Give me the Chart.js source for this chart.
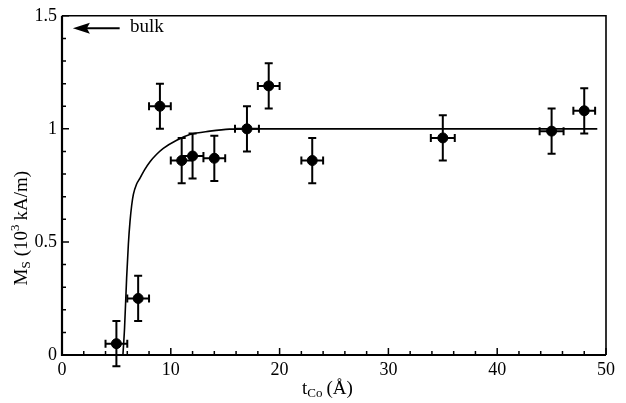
<!DOCTYPE html>
<html>
<head>
<meta charset="utf-8">
<script src="https://cdn.jsdelivr.net/npm/chart.js@4"></script>
<style>
  html, body { margin: 0; padding: 0; background: #fff; }
  #wrap { width: 626px; height: 403px; }
</style>
</head>
<body>
<div id="wrap"><canvas id="chart" width="626" height="403"></canvas></div>
<script>
// measured points: thickness t_Co (Å) and Ms (10^3 kA/m)
const thickness = [5, 7, 9, 11, 12, 14, 17, 19, 23, 35, 45, 48];
const msValues = [0.05, 0.25, 1.10, 0.86, 0.88, 0.87, 1.00, 1.19, 0.86, 0.96, 0.99, 1.08];
const xError = [1, 1, 1, 1, 1, 1, 1.1, 1, 1, 1.1, 1.1, 1];
const yError = [0.1, 0.1, 0.1, 0.1, 0.1, 0.1, 0.1, 0.1, 0.1, 0.1, 0.1, 0.1];

// fitted curve
const fitX = [5.6, 5.75, 5.94, 6.1, 6.25, 6.4, 6.56, 6.85, 7.17, 7.6, 8.09, 8.7, 9.31, 10.54, 11.76, 13.6, 15.4, 17, 20, 30, 40, 49.2];
const fitY = [0.0, 0.12, 0.34, 0.49, 0.59, 0.66, 0.71, 0.755, 0.782, 0.82, 0.855, 0.888, 0.914, 0.95, 0.975, 0.99, 0.999, 1.0, 1.0, 1.0, 1.0, 1.0];

const xTicks = [0, 10, 20, 30, 40, 50];
const yTicks = [0, 0.5, 1, 1.5];

const FONT = '"Liberation Serif", "DejaVu Serif", serif';

const frameAndTicks = {
  id: 'frameAndTicks',
  afterDraw(chart) {
    const { ctx, chartArea: a, scales: { x, y } } = chart;
    ctx.save();
    ctx.strokeStyle = '#000';
    // frame
    ctx.lineWidth = 2.2;
    ctx.beginPath();
    ctx.moveTo(a.left, a.top); ctx.lineTo(a.left, a.bottom); ctx.lineTo(a.right, a.bottom);
    ctx.stroke();
    ctx.lineWidth = 1.6;
    ctx.beginPath();
    ctx.moveTo(a.left, a.top); ctx.lineTo(a.right, a.top); ctx.lineTo(a.right, a.bottom);
    ctx.stroke();
    // inward ticks
    ctx.lineWidth = 1.5;
    ctx.beginPath();
    for (let v = 0; v <= 50.001; v += 2) {
      const px = x.getPixelForValue(v);
      const len = xTicks.includes(Math.round(v)) ? 7 : 4;
      ctx.moveTo(px, a.bottom); ctx.lineTo(px, a.bottom - len);
    }
    for (let i = 0; i <= 15; i++) {
      const v = i / 10;
      const py = y.getPixelForValue(v);
      const len = i % 5 === 0 ? 7 : 4;
      ctx.moveTo(a.left, py); ctx.lineTo(a.left + len, py);
    }
    ctx.stroke();

    // error bars
    ctx.lineWidth = 2;
    ctx.beginPath();
    thickness.forEach((t, i) => {
      const cx = x.getPixelForValue(t), cy = y.getPixelForValue(msValues[i]);
      const x0 = x.getPixelForValue(t - xError[i]), x1 = x.getPixelForValue(t + xError[i]);
      const y0 = y.getPixelForValue(msValues[i] - yError[i]), y1 = y.getPixelForValue(msValues[i] + yError[i]);
      ctx.moveTo(x0, cy); ctx.lineTo(x1, cy);
      ctx.moveTo(x0, cy - 4); ctx.lineTo(x0, cy + 4);
      ctx.moveTo(x1, cy - 4); ctx.lineTo(x1, cy + 4);
      ctx.moveTo(cx, y0); ctx.lineTo(cx, y1);
      ctx.moveTo(cx - 4, y0); ctx.lineTo(cx + 4, y0);
      ctx.moveTo(cx - 4, y1); ctx.lineTo(cx + 4, y1);
    });
    ctx.stroke();

    // bulk arrow
    const ay = y.getPixelForValue(1.445);
    const ax0 = x.getPixelForValue(1.0), ax1 = x.getPixelForValue(5.3);
    ctx.lineWidth = 2;
    ctx.beginPath();
    ctx.moveTo(ax0 + 10, ay); ctx.lineTo(ax1, ay);
    ctx.stroke();
    ctx.fillStyle = '#000';
    ctx.beginPath();
    ctx.moveTo(ax0, ay); ctx.lineTo(ax0 + 17, ay - 5.5); ctx.lineTo(ax0 + 14, ay); ctx.lineTo(ax0 + 17, ay + 5.5);
    ctx.closePath(); ctx.fill();
    ctx.font = '19px ' + FONT;
    ctx.textBaseline = 'middle';
    ctx.fillText('bulk', x.getPixelForValue(6.25), ay - 1);

    // x title: t_Co (Å)
    ctx.textBaseline = 'alphabetic';
    let tx = (a.left + a.right) / 2 - 32, ty = 394;
    ctx.font = '19px ' + FONT;
    ctx.fillText('t', tx, ty); tx += ctx.measureText('t').width;
    ctx.font = '13px ' + FONT;
    ctx.fillText('Co', tx, ty + 3); tx += ctx.measureText('Co').width + 4;
    ctx.font = '19px ' + FONT;
    ctx.fillText('(Å)', tx, ty);

    // y title: M_S (10^3 kA/m)
    ctx.translate(27, (a.top + a.bottom) / 2 + 12);
    ctx.rotate(-Math.PI / 2);
    let sx = -88;
    ctx.font = '19px ' + FONT;
    ctx.fillText('M', sx, 0); sx += ctx.measureText('M').width;
    ctx.font = '13px ' + FONT;
    ctx.fillText('S', sx, 3); sx += ctx.measureText('S').width + 5;
    ctx.font = '19px ' + FONT;
    ctx.fillText('(10', sx, 0); sx += ctx.measureText('(10').width;
    ctx.font = '13px ' + FONT;
    ctx.fillText('3', sx, -8); sx += ctx.measureText('3').width + 4;
    ctx.font = '19px ' + FONT;
    ctx.fillText('kA/m)', sx, 0);
    ctx.restore();
  }
};

new Chart(document.getElementById('chart'), {
  type: 'scatter',
  data: {
    datasets: [
      {
        label: 'fit',
        type: 'line',
        data: fitX.map((v, i) => ({ x: v, y: fitY[i] })),
        borderColor: '#000',
        borderWidth: 1.6,
        pointRadius: 0,
        cubicInterpolationMode: 'monotone',
        fill: false
      },
      {
        label: 'Ms',
        data: thickness.map((v, i) => ({ x: v, y: msValues[i] })),
        backgroundColor: '#000',
        borderColor: '#000',
        pointRadius: 5,
        pointHoverRadius: 5
      }
    ]
  },
  options: {
    responsive: false,
    animation: false,
    events: [],
    layout: { padding: { left: 12, right: 20, top: 13, bottom: 0 } },
    plugins: { legend: { display: false }, tooltip: { enabled: false } },
    scales: {
      x: {
        type: 'linear',
        min: 0, max: 50,
        afterBuildTicks: (s) => { s.ticks = xTicks.map((v) => ({ value: v })); },
        afterFit: (s) => { s.height = 48; },
        grid: { display: false, drawTicks: false },
        border: { display: false },
        ticks: { color: '#000', font: { family: FONT, size: 18 }, padding: 4, maxRotation: 0 }
      },
      y: {
        min: 0, max: 1.5,
        afterBuildTicks: (s) => { s.ticks = yTicks.map((v) => ({ value: v })); },
        afterFit: (s) => { s.width = 50; },
        grid: { display: false, drawTicks: false },
        border: { display: false },
        ticks: { color: '#000', font: { family: FONT, size: 18 }, padding: 5, callback: (v) => String(v) }
      }
    }
  },
  plugins: [frameAndTicks]
});
</script>
</body>
</html>
